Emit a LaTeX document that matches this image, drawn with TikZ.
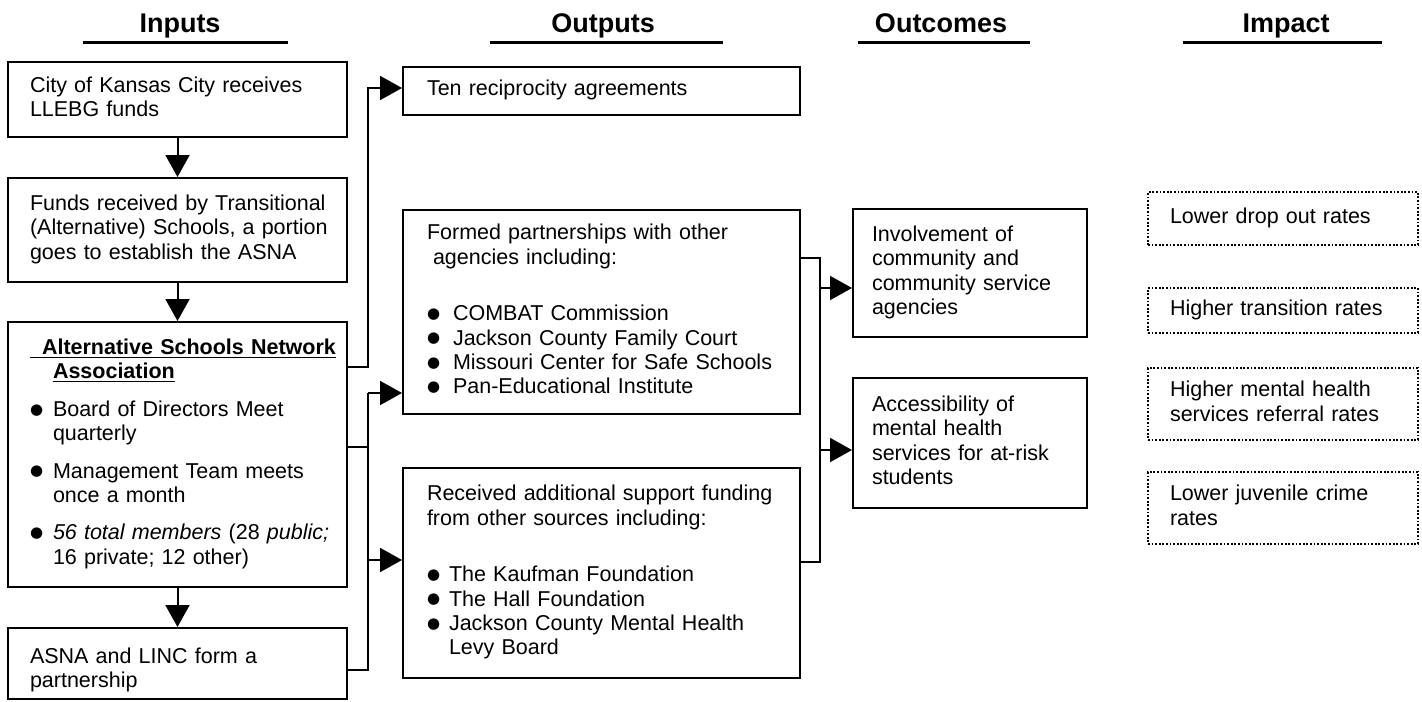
\documentclass[tikz,border=0pt]{standalone}
\usepackage{fontspec}
\setmainfont{Liberation Sans}
\newfontfamily\dejavu{DejaVu Sans}
\usetikzlibrary{arrows.meta}
\newcommand{\bodyfont}{\fontsize{10.75}{12.2}\selectfont}
\newcommand{\headfont}{\fontsize{13.5}{16}\selectfont\bfseries}
\newcommand{\tb}[1]{\begin{tabular}{@{}l@{}}#1\end{tabular}}
\newcommand{\bul}[1][11.5pt]{\makebox[#1][l]{\raisebox{1.1pt}{\dejavu\fontsize{7.5}{8}\selectfont ●}}}
\begin{document}
\begin{tikzpicture}[x=0.5pt,y=-0.5pt,
  box/.style={draw, line width=1pt, rectangle, inner ysep=0pt, align=left, font=\bodyfont},
  ibox/.style={box, inner xsep=11pt, text width=147.5pt},
  obox/.style={box, inner xsep=12pt, text width=174.5pt},
  cbox/.style={box, inner xsep=9.5pt, text width=98pt},
  mbox/.style={draw, line width=0.9pt, dash pattern=on 0.9pt off 0.9pt, inner ysep=0pt, align=left, font=\bodyfont, inner xsep=11pt, text width=113pt},
  arr/.style={line width=1pt, -{Triangle[length=11pt,width=12pt]}},
  ln/.style={line width=1pt},
  hd/.style={font=\headfont, anchor=base},
  ul/.style={line width=1.5pt}]
\fill[white] (0,0) rectangle (1422,701);
\useasboundingbox (0,0) rectangle (1422,701);

% headers
\node[hd] (h1) at (180,33) {Inputs};
\draw[ul] (83,43) -- (288,43);
\node[hd] (h2) at (603,33) {Outputs};
\draw[ul] (490,43) -- (723,43);
\node[hd] (h3) at (941,33) {Outcomes};
\draw[ul] (858,43) -- (1030,43);
\node[hd] (h4) at (1286,33) {Impact};
\draw[ul] (1183,43) -- (1382,43);

% inputs
\node[ibox, minimum height=37.5pt] (in1) at (177.5,99.5) {\tb{City of Kansas City receives\\LLEBG funds}};
\node[ibox, minimum height=52pt] (in2) at (177.5,230) {\tb{Funds received by Transitional\\(Alternative) Schools, a portion\\goes to establish the ASNA}};
\node[ibox, minimum height=132.5pt] (in3) at (177.5,454.5) {\tb{%
\underline{\textbf{\hspace*{6pt}Alternative Schools Network}}\\
\hspace*{11.5pt}\underline{\textbf{Association}}\\[6.5pt]
\bul Board of Directors Meet\\
\hspace*{11.5pt}quarterly\\[6.5pt]
\bul Management Team meets\\
\hspace*{11.5pt}once a month\\[6.5pt]
\bul\textit{56 total members} (28 \textit{public;}\\
\hspace*{11.5pt}16 private; 12 other)}};
\node[ibox, minimum height=35.5pt] (in4) at (177.5,663.5) {\tb{\rule{0pt}{15.5pt}ASNA and LINC form a\\partnership}};

% outputs
\node[obox, minimum height=24pt] (out1) at (601.5,91) {\tb{Ten reciprocity agreements}};
\node[obox, minimum height=102pt] (out2) at (601.5,312) {\tb{Formed partnerships with other\\
\hspace*{3pt}agencies including:\\[16pt]
\bul[13pt]COMBAT Commission\\
\bul[13pt]Jackson County Family Court\\
\bul[13pt]Missouri Center for Safe Schools\\
\bul[13pt]Pan-Educational Institute}};
\node[obox, minimum height=105pt] (out3) at (601.5,573) {\tb{Received additional support funding\\
from other sources including:\\[16pt]
\bul[11pt]The Kaufman Foundation\\
\bul[11pt]The Hall Foundation\\
\bul[11pt]Jackson County Mental Health\\
\hspace*{11pt}Levy Board}};

% outcomes
\node[cbox, minimum height=64pt] (oc1) at (970,273) {\tb{Involvement of\\community and\\community service\\agencies}};
\node[cbox, minimum height=65pt] (oc2) at (970,443) {\tb{Accessibility of\\mental health\\services for at-risk\\students}};

% impact
\node[mbox, minimum height=26.5pt] (im1) at (1283,218.5) {\tb{Lower drop out rates}};
\node[mbox, minimum height=22.5pt] (im2) at (1283,310.5) {\tb{Higher transition rates}};
\node[mbox, minimum height=36pt] (im3) at (1283,404) {\tb{Higher mental health\\services referral rates}};
\node[mbox, minimum height=36pt] (im4) at (1283,508) {\tb{Lower juvenile crime\\rates}};

% connectors: inputs chain
\draw[arr] (in1.south) -- (in2.north);
\draw[arr] (in2.south) -- (in3.north);
\draw[arr] (in3.south) -- (in4.north);

% inputs -> outputs
\coordinate (j1) at (368,367);
\coordinate (j2) at (368,88);
\draw[arr] (in3.east |- j1) -- (j1) -- (j2) -- (out1.west |- j2);
\coordinate (k1) at (368,447);
\coordinate (k2) at (368,393);
\coordinate (k3) at (368,560);
\coordinate (k4) at (368,670);
\draw[ln] (in3.east |- k1) -- (k1);
\draw[ln] (in4.east |- k4) -- (k4) -- (k2);
\draw[arr] (k2) -- (out2.west |- k2);
\draw[arr] (k3) -- (out3.west |- k3);

% outputs -> outcomes
\coordinate (m1) at (820,258);
\coordinate (m2) at (820,562);
\coordinate (m3) at (820,288);
\coordinate (m4) at (820,450);
\draw[ln] (out2.east |- m1) -- (m1) -- (m2) -- (out3.east |- m2);
\draw[arr] (m3) -- (oc1.west |- m3);
\draw[arr] (m4) -- (oc2.west |- m4);
\end{tikzpicture}
\end{document}
